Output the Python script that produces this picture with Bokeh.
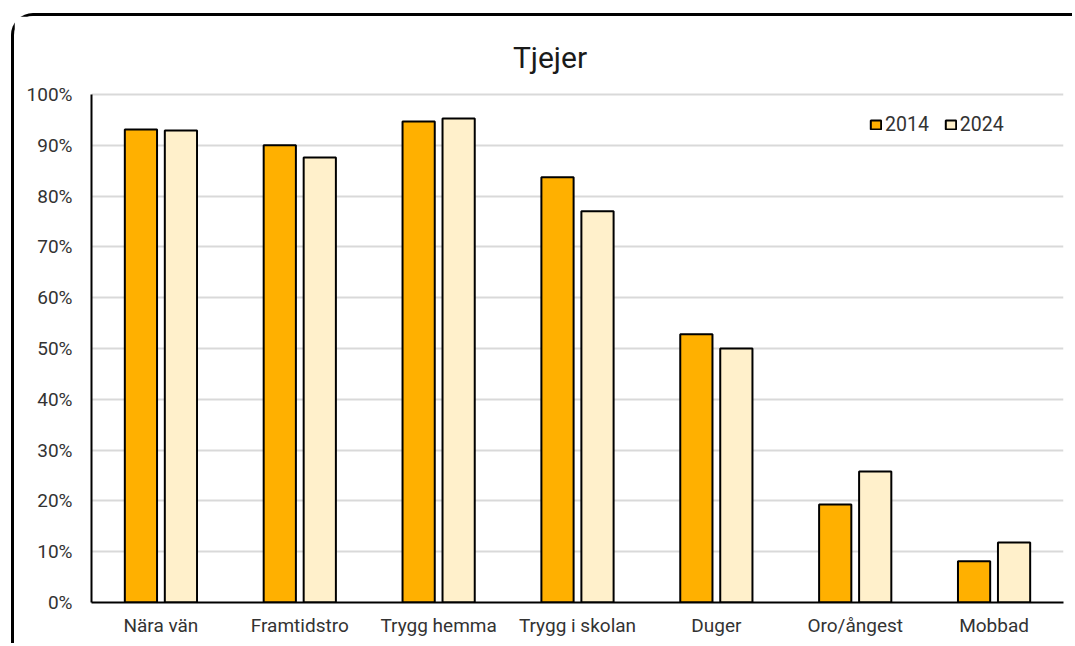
from bokeh.plotting import figure
from bokeh.models import (ColumnDataSource, FactorRange, NumeralTickFormatter, Legend, LegendItem,
                          FixedTicker, Label, Range1d)
from bokeh.transform import dodge
from bokeh.embed import file_html
from bokeh.resources import INLINE

categories = ["Nära vän", "Framtidstro", "Trygg hemma", "Trygg i skolan", "Duger", "Oro/ångest", "Mobbad"]
v2014 = [0.931, 0.900, 0.947, 0.837, 0.528, 0.193, 0.081]
v2024 = [0.929, 0.876, 0.953, 0.770, 0.500, 0.258, 0.118]
y_ticks = [0.0, 0.1, 0.2, 0.3, 0.4, 0.5, 0.6, 0.7, 0.8, 0.9, 1.0]
title_text = "Tjejer"

src = ColumnDataSource(dict(cat=categories, a=v2014, b=v2024))

# frame extends above 100% to hold the title (572 px frame, 508 px for 0..100%)
y_top = 572 / 508

p = figure(x_range=FactorRange(*categories, range_padding=0), y_range=Range1d(0, y_top),
           width=1061, height=630, output_backend="svg", toolbar_location=None,
           min_border_left=77, min_border_right=12, min_border_top=14, min_border_bottom=44)
p.margin = (13, 0, 0, 11)
p.styles = {"border-top": "3px solid black", "border-left": "3px solid black",
            "border-top-left-radius": "22px", "box-sizing": "border-box"}

title = Label(x=3.302, y=1.072, text=title_text,
              text_font="Roboto", text_font_size="30px", text_color="#1a1a1a",
              text_align="center", text_baseline="alphabetic")
p.add_layout(title)

r1 = p.vbar(x=dodge("cat", -0.144, range=p.x_range), top="a", width=0.232, source=src,
            fill_color="#FFB000", line_color="black", line_width=2)
r2 = p.vbar(x=dodge("cat", 0.144, range=p.x_range), top="b", width=0.232, source=src,
            fill_color="#FFF0CB", line_color="black", line_width=2)

p.outline_line_color = None
p.xgrid.grid_line_color = None
p.ygrid.grid_line_color = "#d9d9d9"
p.ygrid.grid_line_width = 2
p.yaxis.ticker = FixedTicker(ticks=y_ticks)
p.yaxis.formatter = NumeralTickFormatter(format="0%")
p.yaxis.bounds = (0, 1)
for ax in (p.xaxis[0], p.yaxis[0]):
    ax.axis_line_color = "black"
    ax.axis_line_width = 2
    ax.major_tick_line_color = None
    ax.minor_tick_line_color = None
    ax.major_label_text_font = "Roboto"
    ax.major_label_text_font_size = "19px"
    ax.major_label_text_color = "#333333"
p.yaxis.major_label_standoff = 13
p.xaxis.major_label_standoff = 5

legend = Legend(items=[LegendItem(label="2014", renderers=[r1]), LegendItem(label="2024", renderers=[r2])],
                orientation="horizontal", location=(778, 466))
legend.glyph_width = 13
legend.glyph_height = 11
legend.label_text_font = "Roboto"
legend.label_text_font_size = "19.5px"
legend.label_text_color = "#333333"
legend.label_standoff = 3
legend.spacing = 15
legend.padding = 0
legend.margin = 0
legend.border_line_color = None
legend.background_fill_alpha = 0
p.add_layout(legend, "center")

open("out.html", "w").write(file_html(p, INLINE))
